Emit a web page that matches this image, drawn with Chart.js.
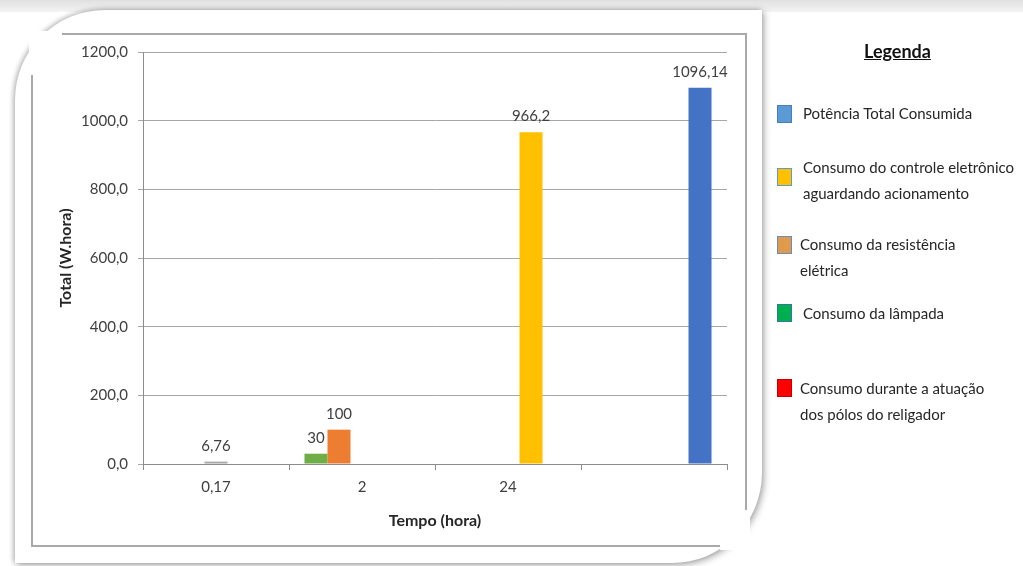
<!DOCTYPE html>
<html>
<head>
<meta charset="utf-8">
<script src="https://cdn.jsdelivr.net/npm/chart.js@4/dist/chart.umd.min.js"></script>
<style>
  html, body { margin:0; padding:0; background:#fff; }
  body { width:1023px; height:566px; position:relative; overflow:hidden; font-family: Lato, "Noto Sans", sans-serif; }
  #topband { position:absolute; left:0; top:0; width:1023px; height:12px; background:linear-gradient(#e0e0e0, #f4f4f4); }
  #card { position:absolute; left:15px; top:10px; width:747px; height:553px; background:#fff;
          border-top-left-radius:90px; border-bottom-right-radius:90px;
          box-shadow: 2px 2px 7px rgba(0,0,0,0.35), -2px -1px 5px rgba(0,0,0,0.2); }
  #frame { position:absolute; left:31px; top:33px; width:716px; height:514px; border:2px solid #a9a9a9; box-sizing:border-box; }
  .patch { position:absolute; background:#fff; }
  #chartwrap { position:absolute; left:0; top:0; width:1023px; height:566px; }
  .leg { position:absolute; font-size:15px; color:#262626; line-height:26px; white-space:nowrap; }
  .sw { position:absolute; width:15px; height:18px; box-sizing:border-box; }
  #legtitle { position:absolute; left:864px; top:40px; font-size:18px; font-weight:bold; color:#111; text-decoration:underline; }
</style>
</head>
<body>
<div id="topband"></div>
<div id="card"></div>
<div id="frame"></div>
<div class="patch" style="left:29px; top:31px; width:33px; height:44px;"></div>
<div class="patch" style="left:720px; top:510px; width:30px; height:40px;"></div>
<div id="chartwrap"><canvas id="c" width="1023" height="566"></canvas></div>

<div id="legtitle">Legenda</div>
<div class="sw" style="left:777px; top:105px; background:#5B9BD5; border:1px solid #4a7fb5;"></div>
<div class="leg" style="left:803px; top:100px;">Potência Total Consumida</div>
<div class="sw" style="left:777px; top:168px; background:#FFC000; border:1px solid #5B9BD5;"></div>
<div class="leg" style="left:803px; top:154px;">Consumo do controle eletrônico<br>aguardando acionamento</div>
<div class="sw" style="left:777px; top:236px; background:#E09A4C; border:1px solid #6a8ac0;"></div>
<div class="leg" style="left:800px; top:231px;">Consumo da resistência<br>elétrica</div>
<div class="sw" style="left:777px; top:304px; background:#00B050; border:1px solid #2f7a9a;"></div>
<div class="leg" style="left:803px; top:300px;">Consumo da lâmpada</div>
<div class="sw" style="left:777px; top:379px; background:#FF0000; border:1px solid #c00000;"></div>
<div class="leg" style="left:800px; top:375px;">Consumo durante a atuação<br>dos pólos do religador</div>

<script>
// ---- data ----
const categories   = ['0,17', '2', '24', ''];
const lampada      = [null, 30, null, null];
const resistencia  = [null, 100, null, null];
const religador    = [6.76, null, null, null];
const controle     = [null, null, 966.2, null];
const total        = [null, null, null, 1096.14];
const yTickLabels  = ['0,0', '200,0', '400,0', '600,0', '800,0', '1000,0', '1200,0'];

const FONT = 'Lato, "Noto Sans", sans-serif';

const valueLabels = {
  id: 'valueLabels',
  afterDatasetsDraw(chart) {
    const ctx = chart.ctx;
    ctx.save();
    ctx.font = '15px ' + FONT;
    ctx.fillStyle = '#404040';
    ctx.textAlign = 'center';
    ctx.textBaseline = 'alphabetic';
    chart.data.datasets.forEach((ds, di) => {
      const meta = chart.getDatasetMeta(di);
      meta.data.forEach((el, i) => {
        const v = ds.data[i];
        if (v === null || v === undefined) return;
        ctx.fillText(String(v).replace('.', ','), el.x, el.y - 11);
      });
    });
    ctx.restore();
  }
};

const common = { barPercentage: 1.0, categoryPercentage: 0.788, borderWidth: 0 };

new Chart(document.getElementById('c'), {
  type: 'bar',
  data: {
    labels: categories,
    datasets: [
      { label: 'Consumo da lâmpada', data: lampada, backgroundColor: '#70AD47', ...common },
      { label: 'Consumo da resistência elétrica', data: resistencia, backgroundColor: '#ED7D31', ...common },
      { label: 'Consumo durante a atuação dos pólos do religador', data: religador, backgroundColor: '#A5A5A5', ...common },
      { label: 'Consumo do controle eletrônico aguardando acionamento', data: controle, backgroundColor: '#FFC000', ...common },
      { label: 'Potência Total Consumida', data: total, backgroundColor: '#4472C4', ...common }
    ]
  },
  options: {
    responsive: false,
    animation: false,
    devicePixelRatio: 1,
    layout: { padding: { left: 56, top: 52, right: 296, bottom: 35 } },
    plugins: { legend: { display: false }, tooltip: { enabled: false } },
    scales: {
      x: {
        offset: true,
        grid: { offset: true, drawOnChartArea: false, drawTicks: true, tickLength: 6, color: '#8c8c8c' },
        border: { color: '#8c8c8c', width: 1 },
        ticks: { font: { family: FONT, size: 15 }, color: '#404040', padding: 8 },
        title: { display: true, text: 'Tempo (hora)', font: { family: FONT, size: 16, weight: 'bold' }, color: '#262626', padding: { top: 0, bottom: 1 } },
        afterFit(s) { s.height = 67; }
      },
      y: {
        min: 0, max: 1200,
        ticks: { stepSize: 200, font: { family: FONT, size: 15 }, color: '#404040', padding: 10,
                 callback: (v, i) => yTickLabels[i] },
        grid: { color: '#a6a6a6', tickLength: 5 },
        border: { color: '#8c8c8c' },
        title: { display: true, text: 'Total (W.hora)', font: { family: FONT, size: 16, weight: 'bold' }, color: '#262626', padding: 0 },
        afterFit(s) { s.width = 87; }
      }
    }
  },
  plugins: [valueLabels]
});
</script>
</body>
</html>
